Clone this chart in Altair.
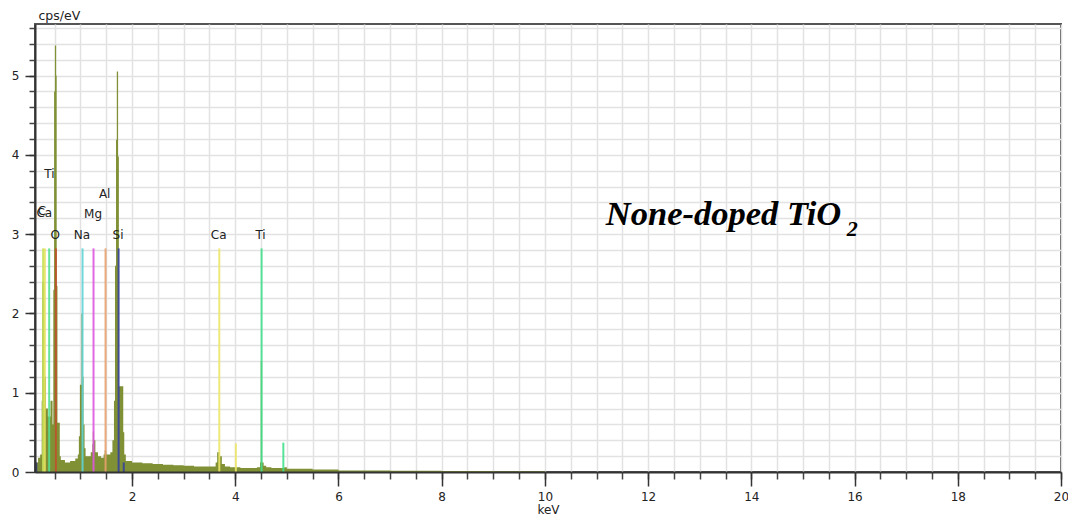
import altair as alt
import pandas as pd

# ---- spectrum (keV channel start, cps/eV) ----
energy = [0.12, 0.14, 0.18, 0.22, 0.25, 0.26, 0.30, 0.33, 0.37, 0.42, 0.46, 0.475,
          0.49, 0.505, 0.53, 0.54, 0.555, 0.60, 0.62, 0.70, 0.80, 0.90, 0.95, 0.97, 0.99,
          1.02, 1.045, 1.06, 1.08, 1.10, 1.20, 1.23, 1.24, 1.265, 1.29, 1.34, 1.40, 1.45,
          1.47, 1.50, 1.58, 1.62, 1.65, 1.67, 1.69, 1.705, 1.73, 1.745, 1.83, 1.85, 1.88,
          2.00, 2.20, 2.40, 2.60, 2.80, 3.00, 3.20, 3.40, 3.55, 3.62, 3.65, 3.70, 3.74,
          3.80, 3.90, 4.00, 4.10, 4.30, 4.42, 4.48, 4.495, 4.52, 4.55, 4.60, 4.70, 4.90,
          4.95, 5.00, 5.50, 6.00, 7.00, 8.00, 9.00, 10.0, 20.0]
counts = [0.05, 0.12, 0.18, 0.22, 0.90, 2.40, 1.20, 0.80, 0.70, 0.90, 0.60, 2.30,
          4.80, 5.38, 5.00, 2.35, 0.62, 0.20, 0.15, 0.12, 0.14, 0.17, 0.22, 0.45, 1.10,
          2.00, 1.20, 0.60, 0.30, 0.20, 0.25, 0.35, 0.51, 0.40, 0.25, 0.20, 0.18, 0.22,
          0.27, 0.22, 0.25, 0.40, 0.90, 2.60, 4.19, 5.05, 3.98, 1.08, 0.50, 0.22, 0.14,
          0.12, 0.11, 0.10, 0.09, 0.085, 0.08, 0.07, 0.07, 0.07, 0.12, 0.25, 0.20, 0.10,
          0.07, 0.06, 0.06, 0.05, 0.05, 0.06, 0.12, 1.40, 0.12, 0.08, 0.06, 0.05, 0.05,
          0.06, 0.04, 0.03, 0.02, 0.015, 0.012, 0.008, 0.0, 0.0]

# ---- element marker lines ----
line_name = ["C", "Ca L", "Ti L", "O", "Na", "Mg", "Al", "Si", "Ca K", "Ti K", "Ca Kb", "Ti Kb", "m1", "m2"]
line_keV = [0.277, 0.31, 0.395, 0.525, 1.041, 1.254, 1.487, 1.74, 3.691, 4.51, 4.012, 4.932, 0.145, 1.84]
line_top = [2.82, 2.82, 2.82, 2.82, 2.82, 2.82, 2.82, 2.82, 2.82, 2.82, 0.36, 0.37, 0.12, 0.12]
line_color = ["#c6e05c", "#e6e35e", "#55df8e", "#c0522c", "#5fd4d6", "#e056e0", "#e8a06c", "#39449a",
              "#ece66a", "#44df8c", "#ece66a", "#44df8c", "#3a449a", "#3a449a"]

# ---- element labels ----
lab_text = ["Ti", "C", "Ca", "O", "Na", "Mg", "Al", "Si", "Ca", "Ti"]
lab_keV = [0.40, 0.255, 0.30, 0.51, 1.03, 1.245, 1.47, 1.73, 3.68, 4.49]
lab_y = [3.76, 3.29, 3.27, 2.99, 2.99, 3.26, 3.50, 2.99, 2.99, 2.99]

# ---- axes ----
x_major_vals = [2, 4, 6, 8, 10, 12, 14, 16, 18, 20]
x_minor_vals = [i * 0.5 for i in range(1, 41)]
y_major_vals = [0, 1, 2, 3, 4, 5]
y_minor_vals = [round(i * 0.2, 1) for i in range(1, 29)]

spec_df = pd.DataFrame({"keV": energy, "cps": counts})
lines_df = pd.DataFrame({"name": line_name, "keV": line_keV, "top": line_top, "zero": [0.0] * len(line_keV)})
labels_df = pd.DataFrame({"text": lab_text, "keV": lab_keV, "y": lab_y})
note_df = pd.DataFrame({"text": ["None-doped TiO"], "keV": [11.18], "y": [3.12]})
sub_df = pd.DataFrame({"text": ["2"], "keV": [15.85], "y": [2.98]})

xs = alt.Scale(domain=[0.12, 20], nice=False, zero=False)
ys = alt.Scale(domain=[0, 5.65], nice=False, zero=False)

FONT = "DejaVu Sans"
olive = "#7f9035"

grid_layer = alt.Chart(spec_df).mark_point(opacity=0).encode(
    x=alt.X("keV:Q", scale=xs, axis=alt.Axis(
        values=x_minor_vals, grid=True, gridColor="#e2e2e2", gridWidth=1.5, labels=False,
        tickSize=7, tickColor="#444", tickWidth=1.5, domain=False, orient="bottom", title=None, zindex=0)),
    y=alt.Y("cps:Q", scale=ys, axis=alt.Axis(
        values=y_minor_vals, grid=True, gridColor="#e2e2e2", gridWidth=1.5, labels=False,
        tickSize=6, tickColor="#444", tickWidth=1.5, domain=False, orient="left", title=None, zindex=0)),
)

area_layer = alt.Chart(spec_df).mark_area(color=olive, interpolate="step-after").encode(
    x=alt.X("keV:Q", scale=xs, axis=alt.Axis(
        values=x_major_vals, grid=False, tickSize=14, tickColor="#333", tickWidth=1.5,
        domainColor="#333", domainWidth=2, labelFont=FONT, labelFontSize=12, labelColor="#222",
        labelPadding=5, labelFlush=False, labelOverlap=False, orient="bottom",
        title="keV", titleFont=FONT, titleFontSize=12, titleFontWeight="normal", titleColor="#222",
        titlePadding=2, zindex=1)),
    y=alt.Y("cps:Q", scale=ys, axis=alt.Axis(
        values=y_major_vals, grid=False, tickSize=10, tickColor="#333", tickWidth=1.5,
        domainColor="#333", domainWidth=2, labelFont=FONT, labelFontSize=12, labelColor="#222",
        labelPadding=6, labelFlush=False, labelOverlap=False, orient="left",
        title="cps/eV", titleFont=FONT, titleFontSize=12.5, titleFontWeight="normal", titleColor="#222",
        titleAngle=0, titleAlign="left", titleBaseline="alphabetic", titleX=3, titleY=-5, zindex=1)),
)

rule_layer = alt.Chart(lines_df).mark_rule(strokeWidth=2, opacity=0.9).encode(
    x=alt.X("keV:Q", scale=xs, axis=None),
    y=alt.Y("zero:Q", scale=ys, axis=None),
    y2="top:Q",
    color=alt.Color("name:N", scale=alt.Scale(domain=line_name, range=line_color), legend=None),
)

label_layer = alt.Chart(labels_df).mark_text(font=FONT, fontSize=12, color="#222", align="center", baseline="middle").encode(
    x=alt.X("keV:Q", scale=xs, axis=None),
    y=alt.Y("y:Q", scale=ys, axis=None),
    text="text:N",
)

note_layer = alt.Chart(note_df).mark_text(font="Liberation Serif", fontSize=34.5, fontStyle="italic",
                                          fontWeight="bold", color="#000", align="left",
                                          baseline="alphabetic").encode(
    x=alt.X("keV:Q", scale=xs, axis=None),
    y=alt.Y("y:Q", scale=ys, axis=None),
    text="text:N",
)

sub_layer = alt.Chart(sub_df).mark_text(font="Liberation Serif", fontSize=22, fontStyle="italic",
                                        fontWeight="bold", color="#000", align="left",
                                        baseline="alphabetic").encode(
    x=alt.X("keV:Q", scale=xs, axis=None),
    y=alt.Y("y:Q", scale=ys, axis=None),
    text="text:N",
)

chart = alt.layer(grid_layer, area_layer, rule_layer, label_layer, note_layer, sub_layer).resolve_axis(
    x="independent", y="independent"
).properties(
    width=1026, height=448,
    autosize=alt.AutoSizeParams(type="none"),
    padding={"left": 27, "top": 16, "right": 7, "bottom": 48},
).configure_view(stroke="#555", strokeWidth=2)

chart.save("out.html", embed_options={"renderer": "svg", "actions": False})
